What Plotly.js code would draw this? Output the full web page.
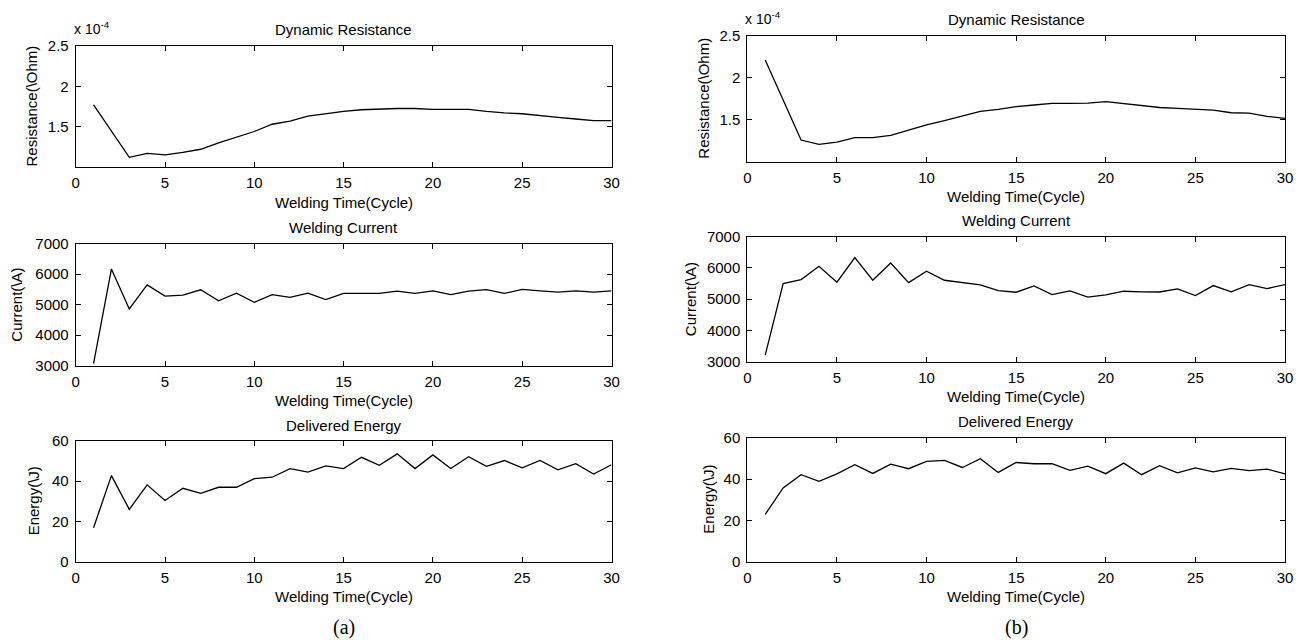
<!DOCTYPE html>
<html>
<head>
<meta charset="utf-8">
<script src="https://cdn.plot.ly/plotly-3.0.1.min.js"></script>
<style>html,body{margin:0;padding:0;background:#fff;}#chart{width:1301px;height:641px;}</style>
</head>
<body>
<div id="chart"></div>
<script>
// Welding time (cycle)
const cycles = [1,2,3,4,5,6,7,8,9,10,11,12,13,14,15,16,17,18,19,20,21,22,23,24,25,26,27,28,29,30];

// (a) series
const resistanceA = [1.77,1.45,1.12,1.17,1.15,1.18,1.22,1.30,1.37,1.44,1.53,1.57,1.63,1.66,1.69,1.71,1.72,1.725,1.725,1.715,1.715,1.715,1.69,1.67,1.66,1.635,1.615,1.595,1.575,1.575]; // x 10^-4 Ohm
const currentA = [3070,6170,4860,5650,5280,5315,5490,5130,5380,5080,5330,5240,5380,5165,5370,5370,5370,5445,5370,5455,5330,5445,5495,5370,5500,5455,5415,5455,5415,5455];
const energyA = [16.9,42.8,26.0,38.2,30.4,36.5,34.0,37.0,37.0,41.3,42.0,46.3,44.5,47.6,46.3,51.9,47.9,53.6,46.3,53.1,46.3,52.2,47.4,50.3,46.7,50.3,45.7,48.7,43.6,48.2];

// (b) series
const resistanceB = [2.21,1.73,1.258,1.206,1.234,1.286,1.286,1.313,1.377,1.437,1.488,1.544,1.60,1.623,1.655,1.675,1.694,1.694,1.698,1.714,1.69,1.663,1.645,1.634,1.626,1.614,1.583,1.579,1.54,1.516]; // x 10^-4 Ohm
const currentB = [3210,5500,5628,6053,5543,6330,5606,6160,5532,5894,5606,5543,5457,5277,5223,5426,5149,5266,5064,5138,5255,5234,5230,5330,5117,5436,5234,5468,5340,5468];
const energyB = [22.9,35.7,42.1,38.9,42.5,46.9,42.7,47.2,45.0,48.5,49.0,45.6,49.8,43.2,48.0,47.4,47.4,44.2,46.2,42.6,47.7,42.1,46.5,43.0,45.4,43.5,45.2,44.1,44.8,42.5];

const xTicks = [0,5,10,15,20,25,30];
const resTicks = [1.5,2,2.5];
const curTicks = [3000,4000,5000,6000,7000];
const engTicks = [0,20,40,60];

const subTitles = ["Dynamic Resistance","Welding Current","Delivered Energy"];
const yTitles = ["Resistance(\\Ohm)","Current(\\A)","Energy(\\J)"];
const xTitle = "Welding Time(Cycle)";
const panelLabels = ["(a)","(b)"];

const W = 1301, H = 641;
const FONT = "Liberation Sans, Arial, sans-serif";
const px = v => v / W;
const py = v => 1 - v / H;

// pixel boxes [left, right, top, bottom]
const boxes = [
  [75.7, 611.5, 46, 167],     // a1
  [75.7, 611.5, 243.7, 365.7],// a2
  [75.7, 611.5, 441, 561.7],  // a3
  [747.3, 1285, 35.7, 161.7], // b1
  [747.3, 1285, 236.7, 361.7],// b2
  [747.3, 1285, 437.7, 561.7] // b3
];
const series = [resistanceA, currentA, energyA, resistanceB, currentB, energyB];
const yRanges = [[1,2.5],[3000,7000],[0,60],[1,2.5],[3000,7000],[0,60]];
const yTickSets = [resTicks, curTicks, engTicks, resTicks, curTicks, engTicks];

const traces = [];
const layout = {
  width: W, height: H,
  margin: {l:0, r:0, t:0, b:0},
  paper_bgcolor: "#fff", plot_bgcolor: "#fff",
  showlegend: false,
  font: {family: FONT, size: 15, color: "#000"},
  annotations: []
};

const ytitleX = [31, 17, 33, 704, 690, 709];

for (let i = 0; i < 6; i++) {
  const n = i + 1;
  const xa = n === 1 ? "x" : "x" + n;
  const ya = n === 1 ? "y" : "y" + n;
  traces.push({
    x: cycles, y: series[i], type: "scatter", mode: "lines",
    line: {color: "#000", width: 1.3},
    xaxis: xa, yaxis: ya, hoverinfo: "x+y"
  });
  const b = boxes[i];
  const axBase = {
    showline: true, linecolor: "#000", linewidth: 1, mirror: "allticks",
    ticks: "inside", ticklen: 5, tickwidth: 1, tickcolor: "#000",
    showgrid: false, zeroline: false,
    tickfont: {family: FONT, size: 15, color: "#000"}
  };
  layout["xaxis" + (n === 1 ? "" : n)] = Object.assign({}, axBase, {
    domain: [px(b[0]), px(b[1])], range: [0, 30],
    tickvals: xTicks, anchor: ya, ticklabelstandoff: 2
  });
  layout["yaxis" + (n === 1 ? "" : n)] = Object.assign({}, axBase, {
    domain: [py(b[3]), py(b[2])], range: yRanges[i],
    tickvals: yTickSets[i], anchor: xa, ticklabelstandoff: 3
  });
  const row = i % 3;
  const cx = (b[0] + b[1]) / 2;
  // subplot title
  layout.annotations.push({
    text: subTitles[row], xref: "paper", yref: "paper",
    x: px(cx), y: py(b[2] - 16), xanchor: "center", yanchor: "middle",
    showarrow: false, font: {family: FONT, size: 15, color: "#000"}
  });
  // x title
  layout.annotations.push({
    text: xTitle, xref: "paper", yref: "paper",
    x: px(cx), y: py(b[3] + 35), xanchor: "center", yanchor: "middle",
    showarrow: false, font: {family: FONT, size: 15, color: "#000"}
  });
  // y title
  layout.annotations.push({
    text: yTitles[row], xref: "paper", yref: "paper", textangle: -90,
    x: px(ytitleX[i]), y: py((b[2] + b[3]) / 2), xanchor: "center", yanchor: "middle",
    showarrow: false, font: {family: FONT, size: 15, color: "#000"}
  });
  if (row === 0) {
    layout.annotations.push({
      text: "x 10<sup>-4</sup>", xref: "paper", yref: "paper",
      x: px(b[0] - 4), y: py(b[2] - 7), xanchor: "left", yanchor: "bottom",
      showarrow: false, font: {family: FONT, size: 14, color: "#000"}
    });
  }
  if (row === 2) {
    layout.annotations.push({
      text: panelLabels[i < 3 ? 0 : 1], xref: "paper", yref: "paper",
      x: px(cx), y: py(627), xanchor: "center", yanchor: "middle",
      showarrow: false, font: {family: "Liberation Serif, Times New Roman, serif", size: 20, color: "#000"}
    });
  }
}

Plotly.newPlot("chart", traces, layout, {displayModeBar: false, staticPlot: true});
</script>
</body>
</html>
